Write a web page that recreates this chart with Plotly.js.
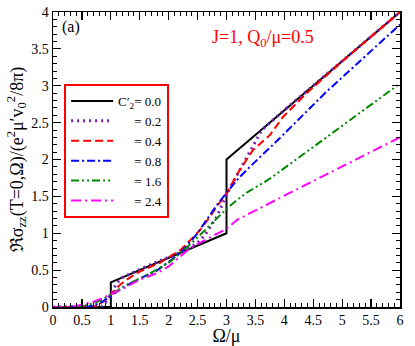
<!DOCTYPE html>
<html>
<head>
<meta charset="utf-8">
<script src="https://cdn.plot.ly/plotly-3.0.1.min.js"></script>
<style>
  html, body { margin: 0; padding: 0; background: #fff; }
  #myPlot { width: 415px; height: 346px; }
</style>
</head>
<body>
<div id="myPlot"></div>
<script>
// C2' = 0.0 (sharp steps)
const x00 = [0, 1, 1, 3, 3, 6];
const y00 = [0, 0, 0.333, 1, 2, 4];

// C2' = 0.2
const x02 = [0, 0.8, 0.85, 0.9, 0.95, 1.0, 1.05, 1.1, 1.2, 1.3, 1.5, 1.7, 2.0, 2.3, 2.5, 2.63, 2.83, 3.0, 3.12, 3.23, 3.38, 3.5, 3.61, 3.8, 4.0, 6];
const y02 = [0, 0, 0.01, 0.05, 0.11, 0.17, 0.25, 0.32, 0.40, 0.44, 0.51, 0.58, 0.67, 0.77, 0.87, 0.98, 1.22, 1.52, 1.70, 1.86, 2.06, 2.25, 2.40, 2.53, 2.67, 4];

// C2' = 0.4
const x04 = [0, 0.7, 0.8, 0.9, 1.0, 1.1, 1.25, 1.5, 1.85, 2.02, 2.2, 2.43, 2.54, 2.71, 2.83, 3.0, 3.23, 3.46, 3.64, 3.75, 3.98, 4.4, 5.0, 6];
const y04 = [0, 0, 0.04, 0.09, 0.16, 0.26, 0.36, 0.48, 0.60, 0.68, 0.77, 0.95, 1.04, 1.22, 1.36, 1.54, 1.86, 2.13, 2.25, 2.33, 2.58, 2.91, 3.33, 4];

// C2' = 0.8
const x08 = [0, 0.6, 0.7, 0.85, 1.0, 1.2, 1.48, 1.79, 2.2, 2.48, 2.83, 3.06, 3.18, 3.35, 3.87, 4.73, 5.71, 6];
const y08 = [0, 0, 0.02, 0.07, 0.15, 0.26, 0.38, 0.49, 0.73, 0.98, 1.38, 1.60, 1.72, 1.86, 2.25, 2.92, 3.62, 3.83];

// C2' = 1.6
const x16 = [0, 0.45, 0.5, 0.7, 0.85, 1.0, 1.27, 1.62, 2.02, 2.43, 2.69, 3.0, 3.18, 3.35, 3.75, 4.5, 5.25, 6];
const y16 = [0, 0, 0.01, 0.05, 0.10, 0.17, 0.30, 0.43, 0.61, 0.89, 1.09, 1.33, 1.45, 1.55, 1.74, 2.17, 2.60, 3.03];

// C2' = 2.4
const x24 = [0, 0.3, 0.5, 0.7, 0.85, 1.0, 1.16, 1.5, 1.8, 2.0, 2.37, 2.83, 3.0, 3.18, 3.9, 6];
const y24 = [0, 0, 0.03, 0.07, 0.12, 0.17, 0.23, 0.37, 0.46, 0.55, 0.80, 0.99, 1.06, 1.18, 1.47, 2.30];

const legendNames = [
  "C\u2032<sub>2</sub>= 0.0",
  "\u00a0\u00a0\u00a0\u00a0\u00a0= 0.2",
  "\u00a0\u00a0\u00a0\u00a0\u00a0= 0.4",
  "\u00a0\u00a0\u00a0\u00a0\u00a0= 0.8",
  "\u00a0\u00a0\u00a0\u00a0\u00a0= 1.6",
  "\u00a0\u00a0\u00a0\u00a0\u00a0= 2.4"
];

const FONT = "Liberation Serif, Times New Roman, serif";

const data = [
  { x: x00, y: y00, name: legendNames[0], mode: "lines", line: { color: "#000000", width: 2 } },
  { x: x02, y: y02, name: legendNames[1], mode: "lines", line: { color: "#7221bc", width: 3, dash: "2px,4px" } },
  { x: x04, y: y04, name: legendNames[2], mode: "lines", line: { color: "#ff0000", width: 2, dash: "8px,4px" } },
  { x: x08, y: y08, name: legendNames[3], mode: "lines", line: { color: "#0000ff", width: 2, dash: "8px,3px,2px,3px" } },
  { x: x16, y: y16, name: legendNames[4], mode: "lines", line: { color: "#008b00", width: 2, dash: "8px,3px,2px,3px,2px,3px" } },
  { x: x24, y: y24, name: legendNames[5], mode: "lines", line: { color: "#ff00ff", width: 2, dash: "10px,4px,2px,4px" } }
];

// common axis look: inside ticks, mirrored frame, minor ticks every 0.1
const axisBase = {
  showgrid: false,
  zeroline: false,
  showline: true,
  linecolor: "#000",
  linewidth: 1.5,
  mirror: "allticks",
  ticks: "inside",
  ticklen: 8,
  tickwidth: 1.2,
  tickcolor: "#000",
  dtick: 0.5,
  tick0: 0,
  minor: { dtick: 0.1, ticks: "inside", ticklen: 4, tickwidth: 1, tickcolor: "#000", showgrid: false },
  tickfont: { family: FONT, size: 14, color: "#000" }
};

const layout = {
  width: 415,
  height: 346,
  margin: { l: 53, r: 15, t: 12, b: 39 },
  paper_bgcolor: "#fff",
  plot_bgcolor: "#fff",
  font: { family: FONT, color: "#000" },
  xaxis: Object.assign({}, axisBase, {
    range: [0, 6],
    title: { text: "\u03a9/\u03bc", font: { family: FONT, size: 18 }, standoff: 10 }
  }),
  yaxis: Object.assign({}, axisBase, {
    range: [0, 4],
    title: {
      text: "\u211c\u03c3<sub>zz</sub>(T=0,\u03a9)/(e<sup>2</sup>\u03bc\u2032v<sub>0</sub><sup>2</sup>/8\u03c0)",
      font: { family: FONT, size: 18 },
      standoff: 3
    }
  }),
  showlegend: true,
  legend: {
    x: 0.032, y: 0.756, xanchor: "left", yanchor: "top",
    bgcolor: "#fff",
    bordercolor: "#ff0000",
    borderwidth: 2,
    font: { family: FONT, size: 13, color: "#000" },
    itemwidth: 42,
    tracegroupgap: 0
  },
  annotations: [
    { xref: "paper", yref: "paper", x: 0.02, y: 0.985, xanchor: "left", yanchor: "top",
      text: "(a)", showarrow: false, font: { family: FONT, size: 16, color: "#000" } },
    { xref: "paper", yref: "paper", x: 0.605, y: 0.955, xanchor: "center", yanchor: "top",
      text: "J=1, Q<sub>0</sub>/\u03bc=0.5", showarrow: false, font: { family: FONT, size: 18, color: "#ff0000" } }
  ]
};

Plotly.newPlot("myPlot", data, layout, { staticPlot: true, displayModeBar: false });
</script>
</body>
</html>
